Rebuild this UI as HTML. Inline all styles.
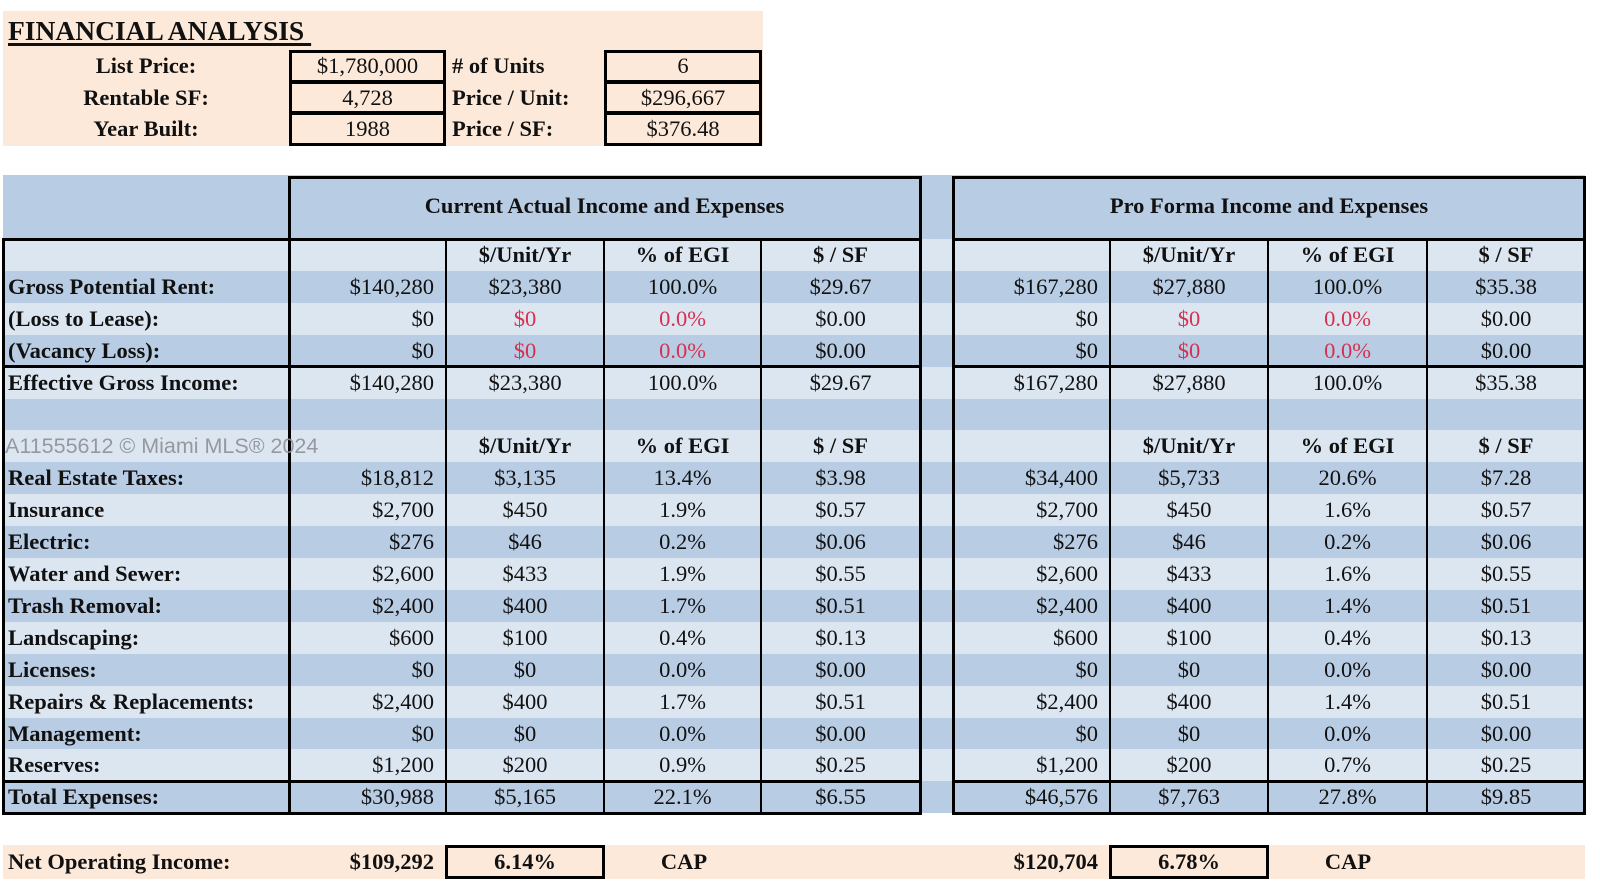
<!DOCTYPE html>
<html>
<head>
<meta charset="utf-8">
<style>
*{margin:0;padding:0;box-sizing:border-box;}
html,body{width:1600px;height:893px;background:#fff;overflow:hidden;}
body{position:relative;font-family:"Liberation Serif",serif;color:#111;font-size:22.5px;}
.a{position:absolute;}
.band{position:absolute;left:3px;width:1582px;height:32px;}
.dk{background:#b8cce4;}
.lt{background:#dce6f1;}
.peach{background:#fde9d9;}
.row{position:absolute;left:0;width:1600px;height:32px;line-height:32px;white-space:nowrap;}
.row span{position:absolute;top:0;}
.lab{left:8px;font-weight:bold;}
.v1{left:289px;width:145px;text-align:right;}
.c1{left:446px;width:158px;text-align:center;}
.c2{left:604px;width:157px;text-align:center;}
.c3{left:761px;width:159px;text-align:center;}
.v2{left:953px;width:145px;text-align:right;}
.d1{left:1110px;width:158px;text-align:center;}
.d2{left:1268px;width:159px;text-align:center;}
.d3{left:1427px;width:158px;text-align:center;}
.b{font-weight:bold;}
.red{color:#d63050;}
.hl{position:absolute;height:3px;background:#000;}
.vl{position:absolute;width:2px;background:#000;}
.box{position:absolute;border:3px solid #000;}
</style>
</head>
<body>

<!-- top peach block -->
<div class="a peach" style="left:3px;top:11px;width:760px;height:135px;"></div>
<div class="a" style="left:8px;top:14px;font-size:27.5px;font-weight:bold;line-height:34px;text-decoration:underline;text-decoration-thickness:2.5px;text-underline-offset:3px;white-space:pre;">FINANCIAL ANALYSIS </div>

<div class="box" style="left:289px;top:50px;width:157px;height:33px;"></div>
<div class="box" style="left:289px;top:81px;width:157px;height:33px;"></div>
<div class="box" style="left:289px;top:112px;width:157px;height:34px;"></div>
<div class="box" style="left:604px;top:50px;width:158px;height:33px;"></div>
<div class="box" style="left:604px;top:81px;width:158px;height:33px;"></div>
<div class="box" style="left:604px;top:112px;width:158px;height:34px;"></div>

<div class="row" style="top:50px;">
  <span class="b" style="left:3px;width:286px;text-align:center;">List Price:</span>
  <span style="left:289px;width:157px;text-align:center;">$1,780,000</span>
  <span class="b" style="left:452px;"># of Units</span>
  <span style="left:604px;width:158px;text-align:center;">6</span>
</div>
<div class="row" style="top:82px;">
  <span class="b" style="left:3px;width:286px;text-align:center;">Rentable SF:</span>
  <span style="left:289px;width:157px;text-align:center;">4,728</span>
  <span class="b" style="left:452px;">Price / Unit:</span>
  <span style="left:604px;width:158px;text-align:center;">$296,667</span>
</div>
<div class="row" style="top:113px;">
  <span class="b" style="left:3px;width:286px;text-align:center;">Year Built:</span>
  <span style="left:289px;width:157px;text-align:center;">1988</span>
  <span class="b" style="left:452px;">Price / SF:</span>
  <span style="left:604px;width:158px;text-align:center;">$376.48</span>
</div>

<!-- header band -->
<div class="a dk" style="left:3px;top:175px;width:1582px;height:64px;"></div>

<!-- stripes -->
<div class="band lt" style="top:239px;"></div>
<div class="band dk" style="top:270.9px;"></div>
<div class="band lt" style="top:302.8px;"></div>
<div class="band dk" style="top:334.7px;"></div>
<div class="band lt" style="top:366.6px;"></div>
<div class="band dk" style="top:398.5px;"></div>
<div class="band lt" style="top:430.4px;"></div>
<div class="band dk" style="top:462.3px;"></div>
<div class="band lt" style="top:494.2px;"></div>
<div class="band dk" style="top:526.1px;"></div>
<div class="band lt" style="top:558px;"></div>
<div class="band dk" style="top:589.9px;"></div>
<div class="band lt" style="top:621.8px;"></div>
<div class="band dk" style="top:653.7px;"></div>
<div class="band lt" style="top:685.6px;"></div>
<div class="band dk" style="top:717.5px;"></div>
<div class="band lt" style="top:749.4px;"></div>
<div class="band dk" style="top:781.3px;height:32px;"></div>
<div class="a" style="left:1585px;top:170px;width:15px;height:650px;background:#fff;"></div>

<!-- left table borders -->
<div class="box" style="left:288px;top:176px;width:634px;height:65px;"></div>
<div class="box" style="left:2px;top:238px;width:920px;height:577px;"></div>
<div class="hl" style="left:2px;width:920px;top:365px;"></div>
<div class="hl" style="left:2px;width:920px;top:780px;"></div>
<div class="vl" style="left:288px;top:239px;height:575px;width:3px;"></div>
<div class="vl" style="left:445px;top:239px;height:575px;"></div>
<div class="vl" style="left:603px;top:239px;height:575px;"></div>
<div class="vl" style="left:760px;top:239px;height:575px;"></div>

<!-- right table borders -->
<div class="box" style="left:952px;top:176px;width:634px;height:65px;"></div>
<div class="box" style="left:952px;top:238px;width:634px;height:577px;"></div>
<div class="hl" style="left:952px;width:634px;top:365px;"></div>
<div class="hl" style="left:952px;width:634px;top:780px;"></div>
<div class="vl" style="left:1109px;top:239px;height:575px;"></div>
<div class="vl" style="left:1267px;top:239px;height:575px;"></div>
<div class="vl" style="left:1426px;top:239px;height:575px;"></div>

<!-- header titles -->
<div class="row b" style="top:190px;">
  <span style="left:289px;width:631px;text-align:center;">Current Actual Income and Expenses</span>
  <span style="left:953px;width:632px;text-align:center;">Pro Forma Income and Expenses</span>
</div>

<!-- rows -->
<div class="row b" style="top:239px;">
  <span class="c1">$/Unit/Yr</span><span class="c2">% of EGI</span><span class="c3">$ / SF</span>
  <span class="d1">$/Unit/Yr</span><span class="d2">% of EGI</span><span class="d3">$ / SF</span>
</div>
<div class="row" style="top:270.9px;">
  <span class="lab">Gross Potential Rent:</span>
  <span class="v1">$140,280</span><span class="c1">$23,380</span><span class="c2">100.0%</span><span class="c3">$29.67</span>
  <span class="v2">$167,280</span><span class="d1">$27,880</span><span class="d2">100.0%</span><span class="d3">$35.38</span>
</div>
<div class="row" style="top:302.8px;">
  <span class="lab">(Loss to Lease):</span>
  <span class="v1">$0</span><span class="c1 red">$0</span><span class="c2 red">0.0%</span><span class="c3">$0.00</span>
  <span class="v2">$0</span><span class="d1 red">$0</span><span class="d2 red">0.0%</span><span class="d3">$0.00</span>
</div>
<div class="row" style="top:334.7px;">
  <span class="lab">(Vacancy Loss):</span>
  <span class="v1">$0</span><span class="c1 red">$0</span><span class="c2 red">0.0%</span><span class="c3">$0.00</span>
  <span class="v2">$0</span><span class="d1 red">$0</span><span class="d2 red">0.0%</span><span class="d3">$0.00</span>
</div>
<div class="row" style="top:366.6px;">
  <span class="lab">Effective Gross Income:</span>
  <span class="v1">$140,280</span><span class="c1">$23,380</span><span class="c2">100.0%</span><span class="c3">$29.67</span>
  <span class="v2">$167,280</span><span class="d1">$27,880</span><span class="d2">100.0%</span><span class="d3">$35.38</span>
</div>
<div class="row b" style="top:430.4px;">
  <span class="c1">$/Unit/Yr</span><span class="c2">% of EGI</span><span class="c3">$ / SF</span>
  <span class="d1">$/Unit/Yr</span><span class="d2">% of EGI</span><span class="d3">$ / SF</span>
</div>
<div class="row" style="top:462.3px;">
  <span class="lab">Real Estate Taxes:</span>
  <span class="v1">$18,812</span><span class="c1">$3,135</span><span class="c2">13.4%</span><span class="c3">$3.98</span>
  <span class="v2">$34,400</span><span class="d1">$5,733</span><span class="d2">20.6%</span><span class="d3">$7.28</span>
</div>
<div class="row" style="top:494.2px;">
  <span class="lab">Insurance</span>
  <span class="v1">$2,700</span><span class="c1">$450</span><span class="c2">1.9%</span><span class="c3">$0.57</span>
  <span class="v2">$2,700</span><span class="d1">$450</span><span class="d2">1.6%</span><span class="d3">$0.57</span>
</div>
<div class="row" style="top:526.1px;">
  <span class="lab">Electric:</span>
  <span class="v1">$276</span><span class="c1">$46</span><span class="c2">0.2%</span><span class="c3">$0.06</span>
  <span class="v2">$276</span><span class="d1">$46</span><span class="d2">0.2%</span><span class="d3">$0.06</span>
</div>
<div class="row" style="top:558px;">
  <span class="lab">Water and Sewer:</span>
  <span class="v1">$2,600</span><span class="c1">$433</span><span class="c2">1.9%</span><span class="c3">$0.55</span>
  <span class="v2">$2,600</span><span class="d1">$433</span><span class="d2">1.6%</span><span class="d3">$0.55</span>
</div>
<div class="row" style="top:589.9px;">
  <span class="lab">Trash Removal:</span>
  <span class="v1">$2,400</span><span class="c1">$400</span><span class="c2">1.7%</span><span class="c3">$0.51</span>
  <span class="v2">$2,400</span><span class="d1">$400</span><span class="d2">1.4%</span><span class="d3">$0.51</span>
</div>
<div class="row" style="top:621.8px;">
  <span class="lab">Landscaping:</span>
  <span class="v1">$600</span><span class="c1">$100</span><span class="c2">0.4%</span><span class="c3">$0.13</span>
  <span class="v2">$600</span><span class="d1">$100</span><span class="d2">0.4%</span><span class="d3">$0.13</span>
</div>
<div class="row" style="top:653.7px;">
  <span class="lab">Licenses:</span>
  <span class="v1">$0</span><span class="c1">$0</span><span class="c2">0.0%</span><span class="c3">$0.00</span>
  <span class="v2">$0</span><span class="d1">$0</span><span class="d2">0.0%</span><span class="d3">$0.00</span>
</div>
<div class="row" style="top:685.6px;">
  <span class="lab">Repairs &amp; Replacements:</span>
  <span class="v1">$2,400</span><span class="c1">$400</span><span class="c2">1.7%</span><span class="c3">$0.51</span>
  <span class="v2">$2,400</span><span class="d1">$400</span><span class="d2">1.4%</span><span class="d3">$0.51</span>
</div>
<div class="row" style="top:717.5px;">
  <span class="lab">Management:</span>
  <span class="v1">$0</span><span class="c1">$0</span><span class="c2">0.0%</span><span class="c3">$0.00</span>
  <span class="v2">$0</span><span class="d1">$0</span><span class="d2">0.0%</span><span class="d3">$0.00</span>
</div>
<div class="row" style="top:749.4px;">
  <span class="lab">Reserves:</span>
  <span class="v1">$1,200</span><span class="c1">$200</span><span class="c2">0.9%</span><span class="c3">$0.25</span>
  <span class="v2">$1,200</span><span class="d1">$200</span><span class="d2">0.7%</span><span class="d3">$0.25</span>
</div>
<div class="row" style="top:781.3px;">
  <span class="lab">Total Expenses:</span>
  <span class="v1">$30,988</span><span class="c1">$5,165</span><span class="c2">22.1%</span><span class="c3">$6.55</span>
  <span class="v2">$46,576</span><span class="d1">$7,763</span><span class="d2">27.8%</span><span class="d3">$9.85</span>
</div>

<!-- watermark -->
<div class="a" style="left:5px;top:432px;font-family:'Liberation Sans',sans-serif;font-size:21.5px;line-height:28px;color:#8e9096;white-space:nowrap;opacity:0.9;">A11555612 © Miami MLS® 2024</div>

<!-- NOI -->
<div class="a peach" style="left:3px;top:845px;width:1582px;height:34px;"></div>
<div class="box" style="left:445px;top:845px;width:160px;height:34px;"></div>
<div class="box" style="left:1109px;top:845px;width:160px;height:34px;"></div>
<div class="row b" style="top:846px;">
  <span class="lab">Net Operating Income:</span>
  <span class="v1">$109,292</span>
  <span class="c1">6.14%</span>
  <span style="left:624px;width:120px;text-align:center;">CAP</span>
  <span class="v2">$120,704</span>
  <span class="d1">6.78%</span>
  <span style="left:1288px;width:120px;text-align:center;">CAP</span>
</div>

</body>
</html>
